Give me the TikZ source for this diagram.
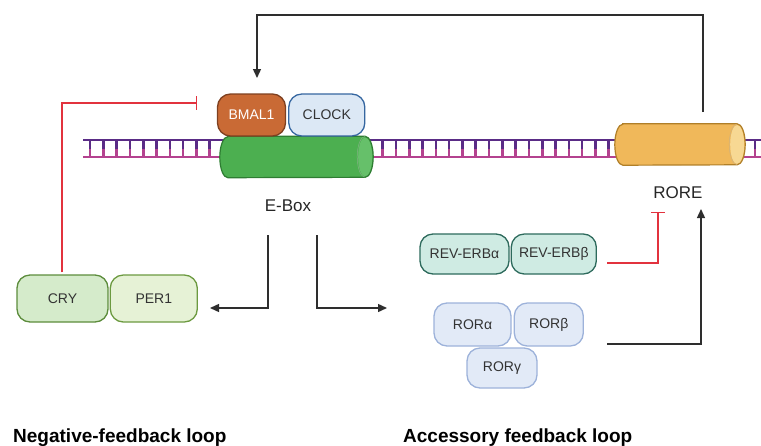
\documentclass[tikz,border=0pt]{standalone}
\usepackage{fontspec}
\setmainfont{Liberation Sans}
\usetikzlibrary{arrows.meta, positioning}

\definecolor{dnapurple}{HTML}{5A2C86}
\definecolor{dnapink}{HTML}{B4428F}
\definecolor{inhred}{HTML}{E2323E}
\definecolor{linegray}{HTML}{2E2E2E}
\definecolor{bmalfill}{HTML}{C96A35}
\definecolor{bmaldraw}{HTML}{7E4020}
\definecolor{clockfill}{HTML}{DCE8F5}
\definecolor{clockdraw}{HTML}{3566A0}
\definecolor{cryfill}{HTML}{D5EBCB}
\definecolor{crydraw}{HTML}{5C8C3C}
\definecolor{perfill}{HTML}{E6F2D6}
\definecolor{perdraw}{HTML}{6C9A40}
\definecolor{revfill}{HTML}{CFEBE3}
\definecolor{revdraw}{HTML}{2D6A5C}
\definecolor{rorfill}{HTML}{E2EAF7}
\definecolor{rordraw}{HTML}{9DB2DA}
\definecolor{eboxbody}{HTML}{4CAF50}
\definecolor{eboxdraw}{HTML}{2E7D32}
\definecolor{eboxend}{HTML}{66C06A}
\definecolor{rorebody}{HTML}{F0B85A}
\definecolor{roredraw}{HTML}{B07F28}
\definecolor{roreend}{HTML}{F7D893}

\tikzset{
  prot/.style={draw, line width=1.3pt, rounded corners=13pt, inner sep=0pt,
    font=\fontsize{14}{16}\selectfont, text=black!80},
  site/.style={inner sep=0pt, minimum height=41pt},
  arr/.style={draw=linegray, line width=1.4pt, -{Triangle[length=9pt, width=8pt]}},
  inhib/.style={draw=inhred, line width=1.4pt, -{Bar[width=14pt, line width=1.4pt]}},
  tag/.style={font=\fontsize{17}{19}\selectfont, text=black!85, inner sep=0pt},
  looptitle/.style={font=\bfseries\fontsize{19}{21}\selectfont, anchor=base west, inner sep=0pt}
}

\begin{document}
\begin{tikzpicture}[x=1pt, y=-1pt]
  \useasboundingbox (0,0) rectangle (761,445);

  % DNA strand
  \foreach \i in {0,...,50} {
    \pgfmathsetmacro{\xr}{90+13.3*\i}
    \draw[dnapurple, line width=2.6pt] (\xr,140) -- (\xr,148.5);
    \draw[dnapink, line width=2.6pt] (\xr,148.5) -- (\xr,157);
  }
  \draw[dnapurple, line width=2.6pt] (83,140) -- (761,140);
  \draw[dnapink, line width=2.6pt] (83,157) -- (761,157);

  % binding sites
  \node[site, minimum width=153pt] (ebox) at (296.5,157) {};
  \node[site, minimum width=130pt] (rore) at (680,144.5) {};
  \foreach \s/\body/\edge/\face in {ebox/eboxbody/eboxdraw/eboxend, rore/rorebody/roredraw/roreend} {
    \fill[\body]
      ([xshift=8pt]\s.north west) -- ([xshift=-8pt]\s.north east)
      arc[start angle=90, end angle=-90, x radius=8pt, y radius=20.5pt]
      -- ([xshift=8pt]\s.south west)
      arc[start angle=270, end angle=90, x radius=8pt, y radius=20.5pt] -- cycle;
    \fill[\face] ([xshift=-8pt]\s.east) ellipse[x radius=7pt, y radius=19.5pt];
    \draw[draw=\edge, line width=1.2pt]
      ([xshift=8pt]\s.north west) -- ([xshift=-8pt]\s.north east)
      arc[start angle=90, end angle=-90, x radius=8pt, y radius=20.5pt]
      -- ([xshift=8pt]\s.south west)
      arc[start angle=270, end angle=90, x radius=8pt, y radius=20.5pt] -- cycle;
    \draw[draw=\edge!60, line width=0.5pt]
      ([xshift=-8pt]\s.north east) arc[start angle=90, end angle=270, x radius=8pt, y radius=20.5pt];
  }
  \node[tag] (eboxlbl) at (288,206) {E-Box};
  \node[tag] (rorelbl) at (678,193) {RORE};

  % activators
  \node[prot, fill=bmalfill, draw=bmaldraw, text=white,
        minimum width=68pt, minimum height=42pt] (bmal) at (251.5,115) {BMAL1};
  \node[prot, fill=clockfill, draw=clockdraw, minimum width=76pt, minimum height=42pt,
        right=2pt of bmal] (clock) {CLOCK};

  % repressors
  \node[prot, fill=cryfill, draw=crydraw, minimum width=91pt, minimum height=47pt]
        (cry) at (62.5,298.5) {CRY};
  \node[prot, fill=perfill, draw=perdraw, minimum width=87pt, minimum height=47pt,
        right=1pt of cry] (per) {PER1};

  \node[prot, fill=revfill, draw=revdraw, minimum width=89pt, minimum height=40pt]
        (reva) at (464.5,254) {REV-ERBα};
  \node[prot, fill=revfill, draw=revdraw, minimum width=85pt, minimum height=40pt,
        right=1pt of reva] (revb) {REV-ERBβ};

  \node[prot, fill=rorfill, draw=rordraw, minimum width=77pt, minimum height=43pt]
        (rora) at (472.5,324.5) {RORα};
  \node[prot, fill=rorfill, draw=rordraw, minimum width=69pt, minimum height=43pt,
        right=2pt of rora] (rorb) {RORβ};
  \node[prot, fill=rorfill, draw=rordraw, minimum width=70pt, minimum height=40pt]
        (rorg) at (502,368) {RORγ};

  % connector ends
  \coordinate (roreup) at (703,112);
  \coordinate (bmalin) at (257,78);
  \coordinate (crybar) at (197,103);
  \coordinate (eboxl) at (268,235);
  \coordinate (eboxr) at (317,235);
  \coordinate (perin) at (210,308);
  \coordinate (rorin) at (387,308);
  \coordinate (revout) at (607,263);
  \coordinate (rorout) at (607,344);
  \coordinate (rorebar) at (658,212);
  \coordinate (rorearr) at (701,209);

  % connectors
  \draw[arr] (roreup) -- (roreup |- 0,15) -| (bmalin);
  \draw[inhib] (cry.north -| 62,0) ++(0,-2) |- (crybar);
  \draw[arr] (eboxl) |- (perin);
  \draw[arr] (eboxr) |- (rorin);
  \draw[inhib] (revout) -| (rorebar);
  \draw[arr] (rorout) -| (rorearr);

  % titles
  \node[looptitle] (neglbl) at (13,442) {Negative-feedback loop};
  \node[looptitle] (acclbl) at (403,442) {Accessory feedback loop};
\end{tikzpicture}
\end{document}
